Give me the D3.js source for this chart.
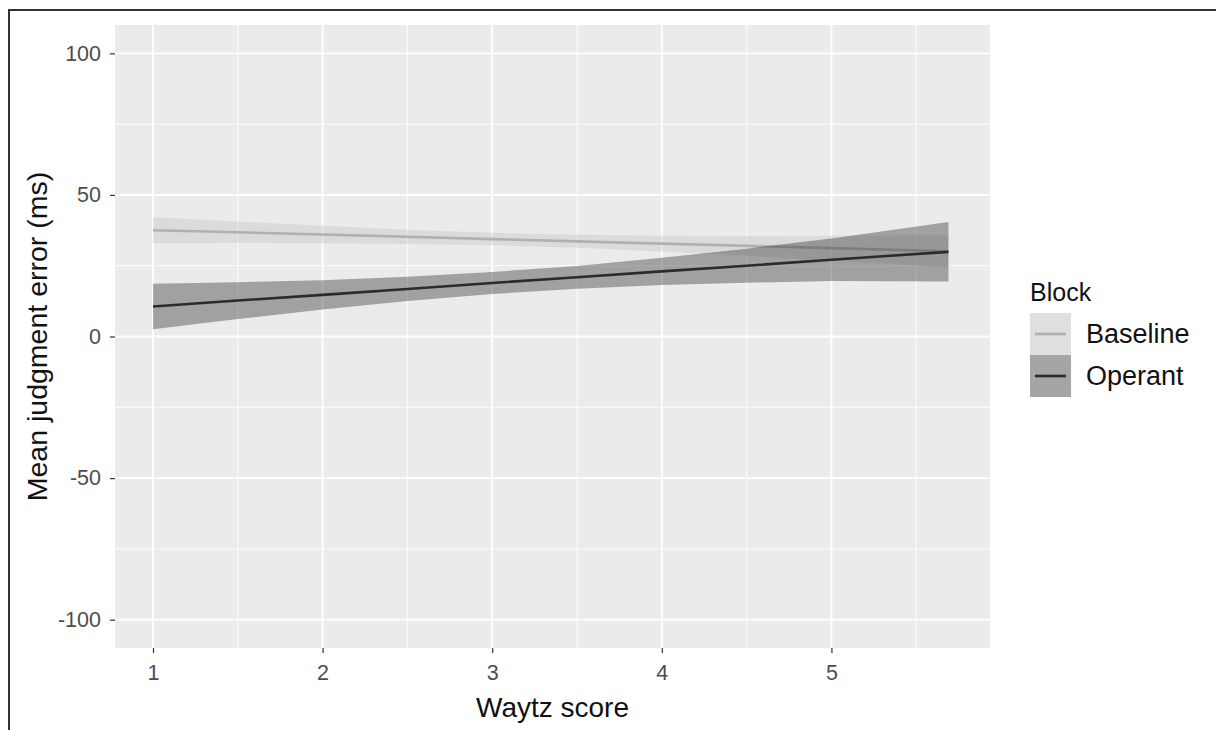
<!DOCTYPE html>
<html>
<head>
<meta charset="utf-8">
<script src="https://cdn.jsdelivr.net/npm/d3@7"></script>
<style>
  body { margin: 0; background: #fff; }
  svg { display: block; font-family: "Liberation Sans", Arial, sans-serif; }
</style>
</head>
<body>
<svg id="chart" width="1216" height="730"></svg>
<script>
const waytz = [1, 1.5, 2, 2.5, 3, 3.5, 4, 4.5, 5, 5.69];

const baselineFit   = [37.5, 36.8, 36.0, 35.2, 34.4, 33.6, 32.8, 32.0, 31.2, 30.1];
const baselineLower = [32.9, 33.0, 32.9, 32.7, 32.2, 31.3, 30.0, 28.5, 26.8, 24.4];
const baselineUpper = [42.1, 40.6, 39.1, 37.7, 36.6, 35.9, 35.6, 35.5, 35.6, 35.8];

const operantFit   = [10.6, 12.7, 14.7, 16.8, 18.9, 20.9, 23.0, 25.0, 27.1, 29.9];
const operantLower = [2.6, 6.2, 9.5, 12.5, 15.0, 16.9, 18.2, 19.0, 19.6, 19.4];
const operantUpper = [18.6, 19.2, 19.9, 21.1, 22.8, 24.9, 27.8, 31.0, 34.6, 40.4];

const blocks = ['Baseline', 'Operant'];
const xTicks = [1, 2, 3, 4, 5];
const yTicks = [-100, -50, 0, 50, 100];
const xMinor = [1.5, 2.5, 3.5, 4.5, 5.5];
const yMinor = [-75, -25, 25, 75];

const lineColor = { Baseline: '#b0b0b0', Operant: '#2b2b2b' };
const fillColor = { Baseline: '#c4c4c4', Operant: '#333333' };
const fillOpacity = 0.4;

const series = blocks.map((b) => {
  const fit = b === 'Baseline' ? baselineFit : operantFit;
  const lo = b === 'Baseline' ? baselineLower : operantLower;
  const hi = b === 'Baseline' ? baselineUpper : operantUpper;
  return { block: b, points: waytz.map((x, i) => ({ x, y: fit[i], lo: lo[i], hi: hi[i] })) };
});

const svg = d3.select('#chart');
const panel = { left: 115, right: 990, top: 25, bottom: 648 };

const xScale = d3.scaleLinear().domain([0.776, 5.935]).range([panel.left, panel.right]);
const yScale = d3.scaleLinear().domain([-110, 110]).range([panel.bottom, panel.top]);

// outer frame (only top and left edges are in view)
svg.append('path')
  .attr('d', 'M9,730 L9,10 L1216,10')
  .attr('fill', 'none')
  .attr('stroke', '#333')
  .attr('stroke-width', 2);

// panel background
svg.append('rect')
  .attr('x', panel.left)
  .attr('y', panel.top)
  .attr('width', panel.right - panel.left)
  .attr('height', panel.bottom - panel.top)
  .attr('fill', '#ebebeb');

const grid = svg.append('g');
grid.selectAll('.xminor').data(xMinor).enter().append('line')
  .attr('x1', (d) => xScale(d)).attr('x2', (d) => xScale(d))
  .attr('y1', panel.top).attr('y2', panel.bottom)
  .attr('stroke', '#fff').attr('stroke-width', 0.9);
grid.selectAll('.yminor').data(yMinor).enter().append('line')
  .attr('y1', (d) => yScale(d)).attr('y2', (d) => yScale(d))
  .attr('x1', panel.left).attr('x2', panel.right)
  .attr('stroke', '#fff').attr('stroke-width', 0.9);
grid.selectAll('.xmajor').data(xTicks).enter().append('line')
  .attr('x1', (d) => xScale(d)).attr('x2', (d) => xScale(d))
  .attr('y1', panel.top).attr('y2', panel.bottom)
  .attr('stroke', '#fff').attr('stroke-width', 1.8);
grid.selectAll('.ymajor').data(yTicks).enter().append('line')
  .attr('y1', (d) => yScale(d)).attr('y2', (d) => yScale(d))
  .attr('x1', panel.left).attr('x2', panel.right)
  .attr('stroke', '#fff').attr('stroke-width', 1.8);

const area = d3.area()
  .x((d) => xScale(d.x))
  .y0((d) => yScale(d.lo))
  .y1((d) => yScale(d.hi));

const line = d3.line()
  .x((d) => xScale(d.x))
  .y((d) => yScale(d.y));

// ribbon + line per group, in group order
series.forEach((s) => {
  svg.append('path')
    .datum(s.points)
    .attr('d', area)
    .attr('fill', fillColor[s.block])
    .attr('fill-opacity', fillOpacity);
  svg.append('path')
    .datum(s.points)
    .attr('d', line)
    .attr('fill', 'none')
    .attr('stroke', lineColor[s.block])
    .attr('stroke-width', 2.6);
});

// axes
const xAxis = d3.axisBottom(xScale).tickValues(xTicks).tickSize(5).tickPadding(12).tickFormat(d3.format('d'));
const yAxis = d3.axisLeft(yScale).tickValues(yTicks).tickSize(5).tickPadding(9).tickFormat(d3.format('d'));

const gx = svg.append('g').attr('transform', `translate(0,${panel.bottom})`).call(xAxis);
const gy = svg.append('g').attr('transform', `translate(${panel.left},0)`).call(yAxis);
[gx, gy].forEach((g) => {
  g.select('.domain').remove();
  g.selectAll('.tick line').attr('stroke', '#333').attr('stroke-width', 1.2);
  g.selectAll('.tick text').attr('fill', '#4d4d4d').style('font-size', '21.5px');
});
gy.selectAll('.tick text').text((d) => (d < 0 ? '-' + Math.abs(d) : d));

// axis titles
svg.append('text')
  .attr('x', (panel.left + panel.right) / 2)
  .attr('y', 717)
  .attr('text-anchor', 'middle')
  .style('font-size', '28px')
  .attr('fill', '#111')
  .text('Waytz score');

svg.append('text')
  .attr('transform', `translate(47,${(panel.top + panel.bottom) / 2}) rotate(-90)`)
  .attr('text-anchor', 'middle')
  .style('font-size', '28.5px')
  .attr('fill', '#111')
  .text('Mean judgment error (ms)');

// legend
const legend = svg.append('g').attr('transform', 'translate(1030,0)');
legend.append('text')
  .attr('x', 0)
  .attr('y', 301)
  .style('font-size', '25px')
  .attr('fill', '#111')
  .text('Block');

const keyTop = 313;
const keyH = 42;
blocks.forEach((b, i) => {
  const k = legend.append('g').attr('transform', `translate(0,${keyTop + i * keyH})`);
  k.append('rect').attr('width', 41).attr('height', keyH).attr('fill', '#f2f2f2');
  k.append('rect').attr('width', 41).attr('height', keyH)
    .attr('fill', fillColor[b]).attr('fill-opacity', fillOpacity);
  k.append('line')
    .attr('x1', 5).attr('x2', 36)
    .attr('y1', keyH / 2).attr('y2', keyH / 2)
    .attr('stroke', lineColor[b]).attr('stroke-width', 2.6);
  k.append('text')
    .attr('x', 56)
    .attr('y', keyH / 2 + 9)
    .style('font-size', '27px')
    .attr('fill', '#111')
    .text(b);
});
</script>
</body>
</html>
